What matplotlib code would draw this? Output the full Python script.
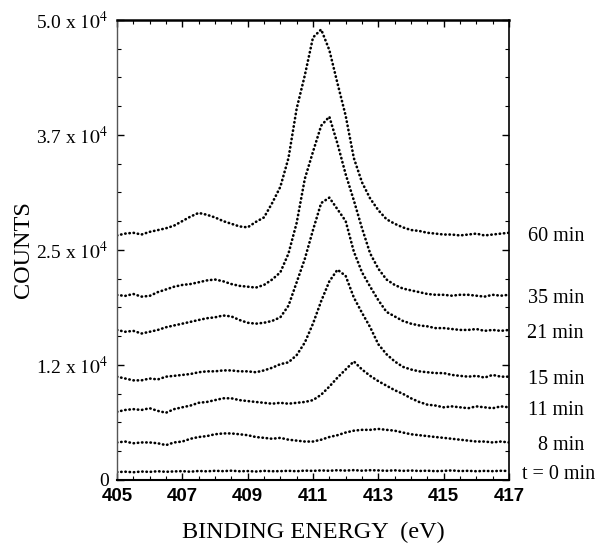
import numpy as np
import matplotlib
matplotlib.use("Agg")
import matplotlib.pyplot as plt
from matplotlib.ticker import MultipleLocator

# binding energy grid (eV), 0.25 eV steps
energy = np.linspace(405, 417, 49)

# counts, one array per deposition time
c_60 = [26580, 26780, 26870, 26680, 26970, 27160, 27360, 27650, 28140, 28630,
        29030, 28830, 28540, 28140, 27850, 27560, 27460, 28050, 28540, 30100,
        31860, 35000, 40370, 43990, 48100, 48970, 46730, 43110, 39590, 34990,
        32350, 30590, 29320, 28340, 27850, 27460, 27170, 27070, 26870, 26780,
        26680, 26680, 26580, 26680, 26780, 26580, 26680, 26780, 26870]
c_35 = [20110, 20010, 20220, 19930, 20010, 20420, 20710, 21010, 21200, 21300,
        21490, 21690, 21790, 21600, 21300, 21100, 21010, 20910, 21200, 21790,
        22570, 24620, 27950, 32740, 35680, 38510, 39490, 36550, 33230, 30390,
        27360, 24620, 22960, 21790, 21200, 20810, 20610, 20420, 20220, 20130,
        20130, 20030, 20130, 20130, 20030, 19930, 20130, 20030, 20130]
c_21 = [16310, 16110, 16210, 15920, 16110, 16310, 16600, 16800, 16990, 17190,
        17390, 17580, 17680, 17880, 17780, 17390, 17090, 16990, 17090, 17290,
        17680, 18950, 21490, 24040, 27170, 30100, 30690, 29420, 28140, 24820,
        22570, 21010, 19540, 18270, 17780, 17290, 16990, 16800, 16700, 16510,
        16510, 16410, 16310, 16310, 16410, 16210, 16310, 16210, 16310]
c_15 = [11230, 11030, 10830, 10830, 11030, 10930, 11230, 11320, 11420, 11520,
        11710, 11810, 11810, 11910, 11910, 11810, 11810, 11710, 11910, 12200,
        12590, 12790, 13570, 14940, 17000, 19440, 21590, 22860, 22180, 19830,
        18170, 16600, 14750, 13670, 12890, 12300, 12010, 11810, 11710, 11620,
        11620, 11420, 11320, 11230, 11320, 11130, 11420, 11230, 11230]
c_11 = [7410, 7610, 7700, 7610, 7800, 7510, 7310, 7700, 7900, 8090,
        8390, 8480, 8680, 8880, 8880, 8680, 8580, 8480, 8390, 8290,
        8390, 8290, 8390, 8480, 8680, 9270, 10150, 11130, 12010, 12890,
        12010, 11320, 10740, 10250, 9760, 9370, 8880, 8480, 8190, 8090,
        7900, 8000, 7900, 7800, 8000, 7900, 7800, 8000, 7900]
c_8 = [4080, 4180, 3990, 4080, 4080, 3990, 3790, 4080, 4180, 4480,
       4670, 4770, 4970, 5060, 5060, 4970, 4870, 4670, 4580, 4480,
       4580, 4380, 4280, 4180, 4180, 4380, 4670, 4870, 5160, 5360,
       5450, 5450, 5550, 5450, 5360, 5160, 4970, 4870, 4770, 4670,
       4580, 4480, 4380, 4280, 4180, 4180, 4080, 4180, 4080]
c_0 = [860, 900, 840, 920, 880, 950, 890, 930, 960, 900,
       980, 940, 1000, 960, 1010, 950, 970, 920, 990, 950,
       960, 1000, 950, 1020, 990, 1040, 1000, 1060, 1020, 1070,
       1010, 1060, 1040, 1000, 1050, 990, 1030, 980, 1010, 960,
       990, 1040, 970, 1000, 950, 990, 960, 1000, 980]

series = [c_60, c_35, c_21, c_15, c_11, c_8, c_0]
labels = ["60 min", "35 min", "21 min", "15 min", "11 min", "8 min", "t = 0 min"]

ytick_vals = [0, 12500, 25000, 37500, 50000]
ytick_text = ["0", "1.2 x $10^{4}$", "2.5 x $10^{4}$", "3.7 x $10^{4}$", "5.0 x $10^{4}$"]
xtick_vals = [405, 407, 409, 411, 413, 415, 417]

plt.rcParams["mathtext.fontset"] = "stix"
serif = "Liberation Serif"

fig = plt.figure(figsize=(5.95, 5.46), dpi=100)
ax = fig.add_axes([0.1966, 0.1209, 0.6589, 0.8425])

for vals, lab in zip(series, labels):
    ax.plot(energy, vals, color="black", lw=1.9,
            linestyle=(0, (0.15, 1.45)), dash_capstyle="round")
    xr = 1.219 if lab.startswith("t") else 1.191
    ax.text(xr, vals[-1] - 350, lab, transform=ax.get_yaxis_transform(),
            ha="right", va="center", fontsize=14.5, family=serif)

ax.set_xlim(405, 417)
ax.set_ylim(0, 50000)
ax.set_xticks(xtick_vals)
ax.set_xticklabels([str(v) for v in xtick_vals], fontsize=13.5,
                   fontweight="bold", family="Liberation Sans")
ax.set_yticks(ytick_vals)
ax.set_yticklabels(ytick_text, fontsize=14, family=serif)
ax.xaxis.set_minor_locator(MultipleLocator(0.5))
ax.yaxis.set_minor_locator(MultipleLocator(3125))
ax.tick_params(which="both", direction="in", top=True, right=True)
ax.tick_params(which="major", length=5, width=1, pad=6)
ax.tick_params(which="minor", length=3, width=0.8)

ax.spines["top"].set_linewidth(1.8)
ax.spines["bottom"].set_linewidth(1.5)
ax.spines["right"].set_linewidth(1.2)
ax.spines["left"].set_linewidth(1.0)
ax.spines["left"].set_color("#555555")

ax.set_xlabel("BINDING ENERGY  (eV)", fontsize=17.5, family=serif, labelpad=12)
ax.set_ylabel("COUNTS", fontsize=17.5, family=serif)
ax.yaxis.set_label_coords(-0.212, 0.5)

fig.savefig("out.png", dpi=100)
